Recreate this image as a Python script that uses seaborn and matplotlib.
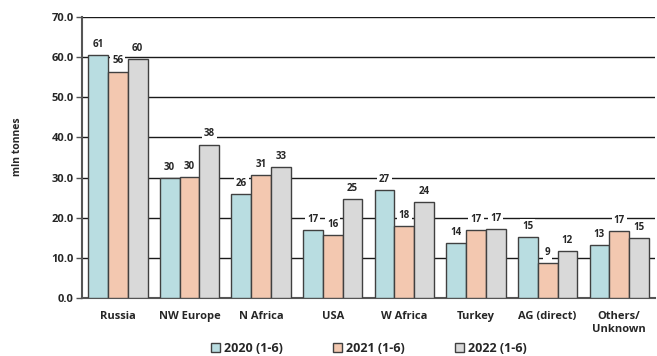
import matplotlib
matplotlib.use("Agg")
import matplotlib.pyplot as plt
import seaborn as sns
import pandas as pd

regions = ["Russia", "NW Europe", "N Africa", "USA", "W Africa", "Turkey",
           "AG (direct)", "Others/\nUnknown"]
periods = ["2020 (1-6)", "2021 (1-6)", "2022 (1-6)"]
v2020 = [60.6, 29.8, 25.9, 17.0, 26.9, 13.7, 15.2, 13.2]
v2021 = [56.4, 30.1, 30.7, 15.7, 18.0, 17.0, 8.7, 16.6]
v2022 = [59.6, 38.2, 32.6, 24.7, 23.9, 17.2, 11.7, 15.0]
colors = ["#b9dde1", "#f3c8b0", "#d9d9d9"]

df = pd.DataFrame({
    "region": regions * 3,
    "period": [p for p in periods for _ in regions],
    "value": v2020 + v2021 + v2022,
})

sns.set_style("white")
plt.rcParams["font.family"] = ["Open Sans", "DejaVu Sans"]
plt.rcParams["font.weight"] = "bold"

fig = plt.figure(figsize=(6.57, 3.56), dpi=100)
ax = fig.add_axes([0.125, 0.163, 0.872, 0.789])

sns.barplot(data=df, x="region", y="value", hue="period", palette=colors,
            width=0.83, edgecolor="#404040", linewidth=1.0, ax=ax,
            saturation=1, zorder=3)

ax.set_ylim(0, 70)
ax.set_yticks(range(0, 71, 10))
ax.set_yticklabels([f"{t:.1f}" for t in range(0, 71, 10)], fontsize=8, fontweight="bold")
ax.set_xlim(-0.5, len(regions) - 0.5)
ax.yaxis.grid(True, color="#1a1a1a", linewidth=1.0, zorder=0)
ax.set_axisbelow(True)
ax.tick_params(axis="y", left=True, length=4, width=1, color="#555555", pad=2)
ax.tick_params(axis="x", bottom=False, pad=6, labelsize=8)
for lab in ax.get_xticklabels():
    lab.set_fontweight("bold")

for side in ["top", "right"]:
    ax.spines[side].set_visible(False)
for side in ["left", "bottom"]:
    ax.spines[side].set_color("#555555")
    ax.spines[side].set_linewidth(1.5)

ax.set_xlabel("")
ax.set_ylabel("mln tonnes", fontsize=7.5, fontweight="bold")
ax.yaxis.set_label_coords(-0.104, 0.54)

for cont in ax.containers:
    for bar in cont:
        h = bar.get_height()
        ax.text(bar.get_x() + bar.get_width() / 2, h + 1.3, f"{h:.0f}",
                ha="center", va="bottom", fontsize=7, fontweight="bold",
                zorder=4,
                bbox=dict(boxstyle="square,pad=0.2", fc="white", ec="none"))

handles, labels = ax.get_legend_handles_labels()
ax.legend(handles, labels, loc="upper center", bbox_to_anchor=(0.5, -0.115),
          ncol=3, frameon=False, handlelength=0.75,
          handleheight=0.75, handletextpad=0.3, columnspacing=4.0,
          prop={"weight": "bold", "size": 9})

fig.savefig("out.png", dpi=100)
